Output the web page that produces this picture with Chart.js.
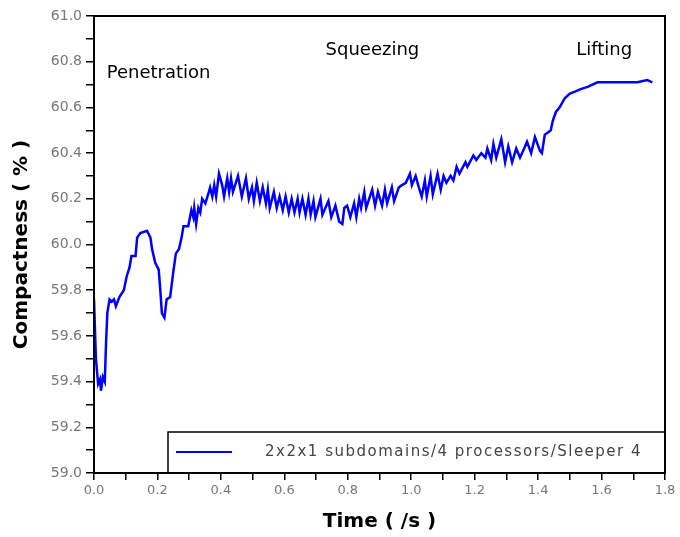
<!DOCTYPE html>
<html>
<head>
<meta charset="utf-8">
<script src="https://cdn.jsdelivr.net/npm/chart.js@4"></script>
<style>
  html, body { margin: 0; padding: 0; background: #fff; }
  #wrap { width: 680px; height: 537px; }
</style>
</head>
<body>
<div id="wrap"><canvas id="myChart" width="680" height="537"></canvas></div>
<script>
// time (s) and compactness (%)
const times = [
  0.000, 0.006, 0.013, 0.019, 0.022, 0.028, 0.034, 0.038, 0.042, 0.049,
  0.056, 0.063, 0.069, 0.080, 0.094, 0.103, 0.112, 0.118, 0.131, 0.136,
  0.146, 0.167, 0.178, 0.183, 0.193, 0.204, 0.209, 0.214, 0.222, 0.229,
  0.240, 0.250, 0.258, 0.268, 0.276, 0.282, 0.297, 0.307, 0.313, 0.316,
  0.322, 0.329, 0.335, 0.341, 0.351, 0.360, 0.366, 0.373, 0.379, 0.385,
  0.394, 0.404, 0.410, 0.420, 0.426, 0.432, 0.438, 0.454, 0.466, 0.479,
  0.488, 0.498, 0.504, 0.513, 0.523, 0.532, 0.542, 0.548, 0.554, 0.567,
  0.576, 0.585, 0.595, 0.604, 0.614, 0.623, 0.632, 0.642, 0.648, 0.657,
  0.667, 0.676, 0.683, 0.692, 0.698, 0.714, 0.720, 0.739, 0.748, 0.761,
  0.773, 0.783, 0.789, 0.798, 0.808, 0.820, 0.827, 0.836, 0.842, 0.852,
  0.858, 0.877, 0.886, 0.895, 0.908, 0.917, 0.924, 0.939, 0.946, 0.961,
  0.971, 0.983, 0.996, 1.002, 1.014, 1.024, 1.033, 1.043, 1.049, 1.061,
  1.068, 1.083, 1.093, 1.102, 1.111, 1.124, 1.133, 1.143, 1.152, 1.171,
  1.177, 1.196, 1.205, 1.221, 1.234, 1.240, 1.252, 1.259, 1.268, 1.284,
  1.296, 1.306, 1.318, 1.331, 1.343, 1.356, 1.365, 1.378, 1.390, 1.406,
  1.412, 1.421, 1.431, 1.440, 1.446, 1.456, 1.468, 1.484, 1.500, 1.518,
  1.534, 1.556, 1.587, 1.628, 1.672, 1.713, 1.744, 1.760
]
const compactness = [
  59.76, 59.50, 59.39, 59.41, 59.36, 59.42, 59.40, 59.57, 59.70, 59.76,
  59.75, 59.76, 59.73, 59.77, 59.80, 59.86, 59.90, 59.95, 59.95, 60.03,
  60.05, 60.06, 60.03, 59.98, 59.92, 59.89, 59.80, 59.70, 59.68, 59.76,
  59.77, 59.88, 59.96, 59.98, 60.03, 60.08, 60.08, 60.15, 60.12, 60.16,
  60.09, 60.16, 60.14, 60.20, 60.18, 60.22, 60.25, 60.21, 60.26, 60.21,
  60.31, 60.26, 60.21, 60.29, 60.23, 60.29, 60.23, 60.30, 60.21, 60.29,
  60.20, 60.25, 60.19, 60.27, 60.19, 60.25, 60.18, 60.24, 60.16, 60.23,
  60.16, 60.21, 60.15, 60.21, 60.14, 60.20, 60.14, 60.20, 60.14, 60.20,
  60.13, 60.20, 60.13, 60.19, 60.12, 60.20, 60.13, 60.19, 60.12, 60.17,
  60.10, 60.09, 60.16, 60.17, 60.12, 60.18, 60.12, 60.20, 60.16, 60.23,
  60.16, 60.24, 60.17, 60.23, 60.17, 60.24, 60.18, 60.25, 60.19, 60.25,
  60.26, 60.27, 60.31, 60.26, 60.30, 60.25, 60.21, 60.28, 60.21, 60.30,
  60.22, 60.31, 60.24, 60.30, 60.27, 60.30, 60.28, 60.34, 60.31, 60.36,
  60.34, 60.39, 60.37, 60.40, 60.38, 60.42, 60.37, 60.44, 60.38, 60.46,
  60.36, 60.43, 60.36, 60.42, 60.38, 60.42, 60.45, 60.40, 60.47, 60.41,
  60.40, 60.48, 60.49, 60.50, 60.54, 60.58, 60.60, 60.64, 60.66, 60.67,
  60.68, 60.69, 60.71, 60.71, 60.71, 60.71, 60.72, 60.71
]

const seriesLabel = '2x2x1 subdomains/4 processors/Sleeper 4'
const phases = ['Penetration', 'Squeezing', 'Lifting']
const phaseTimes = [0.04, 0.73, 1.52]
const phaseValues = [60.75, 60.85, 60.85]

const points = times.map((t, i) => ({ x: t, y: compactness[i] }))

// frame, legend box and phase labels
const extras = {
	id: 'extras',
	afterDraw(chart) {
		const { ctx, chartArea: a, scales } = chart
		ctx.save()
		ctx.strokeStyle = '#000'
		ctx.lineWidth = 2
		ctx.strokeRect(a.left, a.top, a.right - a.left, a.bottom - a.top)

		// legend
		const lx = 168, ly = 432
		ctx.fillStyle = '#fff'
		ctx.fillRect(lx, ly, a.right - lx - 1, a.bottom - ly - 1)
		ctx.beginPath()
		ctx.moveTo(lx, a.bottom)
		ctx.lineTo(lx, ly)
		ctx.lineTo(a.right, ly)
		ctx.lineWidth = 1.5
		ctx.stroke()
		ctx.beginPath()
		ctx.moveTo(176, 452)
		ctx.lineTo(232, 452)
		ctx.strokeStyle = '#0000ff'
		ctx.lineWidth = 2
		ctx.stroke()
		ctx.fillStyle = '#444'
		ctx.font = '15px "DejaVu Sans"'
		ctx.letterSpacing = '1.5px'
		ctx.textBaseline = 'middle'
		ctx.fillText(seriesLabel, 265, 452)

		ctx.letterSpacing = '0px'
		ctx.fillStyle = '#000'
		ctx.font = '18px "DejaVu Sans"'
		phases.forEach((p, i) => {
			ctx.fillText(p, scales.x.getPixelForValue(phaseTimes[i]), scales.y.getPixelForValue(phaseValues[i]))
		})
		ctx.restore()
	},
}

const tickLabel = v => (Math.round(v * 10) % 2 === 0 ? v.toFixed(1) : '')

const ctx = document.getElementById('myChart').getContext('2d')
const myChart = new Chart(ctx, {
	type: 'line',
	data: {
		datasets: [
			{
				label: seriesLabel,
				data: points,
				borderColor: '#0000ff',
				borderWidth: 2.5,
				pointRadius: 0,
				tension: 0,
				fill: false,
			},
		],
	},
	options: {
		responsive: false,
		animation: false,
		layout: { padding: { left: 0, top: 16, right: 15, bottom: 0 } },
		plugins: { legend: { display: false }, tooltip: { enabled: false } },
		scales: {
			x: {
				type: 'linear',
				min: 0,
				max: 1.8,
				afterFit: s => { s.height = 64 },
				ticks: {
					stepSize: 0.1,
					color: '#777',
					font: { family: 'DejaVu Sans', size: 13 },
					padding: 3,
					maxRotation: 0,
					autoSkip: false,
					callback: tickLabel,
				},
				grid: { drawOnChartArea: false, tickLength: 7, color: '#000', lineWidth: 1.5 },
				border: { color: '#000', width: 2 },
				title: {
					display: true,
					text: 'Time ( /s )',
					color: '#000',
					font: { family: 'DejaVu Sans', size: 20, weight: 'bold' },
					padding: { top: 0, bottom: 3 },
				},
			},
			y: {
				min: 59,
				max: 61,
				afterFit: s => { s.width = 94 },
				ticks: {
					stepSize: 0.1,
					color: '#777',
					font: { family: 'DejaVu Sans', size: 14 },
					padding: 4,
					autoSkip: false,
					callback: tickLabel,
				},
				grid: { drawOnChartArea: false, tickLength: 8, color: '#000', lineWidth: 1.5 },
				border: { color: '#000', width: 2 },
				title: {
					display: true,
					text: 'Compactness ( % )',
					color: '#000',
					font: { family: 'DejaVu Sans', size: 20, weight: 'bold' },
					padding: { top: 10, bottom: 0 },
				},
			},
		},
	},
	plugins: [extras],
})
</script>
</body>
</html>
